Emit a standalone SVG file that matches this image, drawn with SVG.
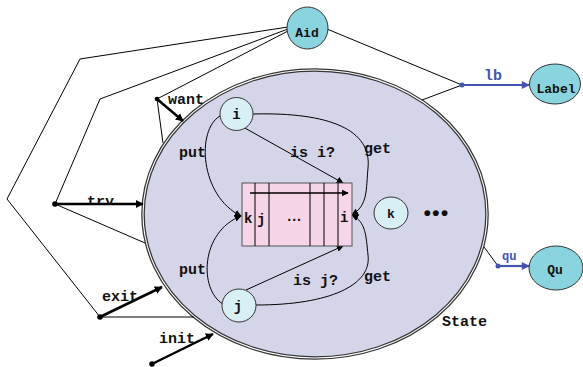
<svg xmlns="http://www.w3.org/2000/svg" width="583" height="367" viewBox="0 0 583 367">
  <defs>
    <marker id="ah" viewBox="0 0 10 10" refX="9" refY="5" markerWidth="7" markerHeight="7" markerUnits="userSpaceOnUse" orient="auto">
      <path d="M0,0 L10,5 L0,10 z" fill="#000"/>
    </marker>
    <marker id="ahb" viewBox="0 0 10 10" refX="9" refY="5" markerWidth="8" markerHeight="8" markerUnits="userSpaceOnUse" orient="auto">
      <path d="M0,0 L10,5 L0,10 z" fill="#000"/>
    </marker>
    <marker id="ahblue" viewBox="0 0 10 10" refX="9" refY="5" markerWidth="9" markerHeight="8" markerUnits="userSpaceOnUse" orient="auto">
      <path d="M0,0 L10,5 L0,10 z" fill="#4452b0"/>
    </marker>
    <clipPath id="tryclip">
      <rect x="80" y="185" width="40" height="19.5"/>
    </clipPath>
  </defs>
  <style>
    text { font-family: "Liberation Mono", "Courier New", monospace; font-weight: bold; fill: #111; }
    .lbl { font-size: 15px; }
    .nlbl { font-size: 13px; text-anchor: middle; }
    .blue { fill: #4452b0; }
    .thin { fill: none; stroke: #000; stroke-width: 1; }
    .thick { fill: none; stroke: #000; stroke-width: 2.5; marker-end: url(#ahb); }
    .curve { fill: none; stroke: #000; stroke-width: 1; marker-end: url(#ah); }
    .bl { fill: none; stroke: #4452b0; stroke-width: 2.2; marker-end: url(#ahblue); }
    .dot { fill: #000; }
    .bdot { fill: #4452b0; }
  </style>

  <!-- State container -->
  <g id="state">
    <ellipse cx="315" cy="214" rx="172" ry="144" fill="#d5d5ea" stroke="#333" stroke-width="3.6"/>
    <ellipse cx="315" cy="214" rx="172" ry="144" fill="none" stroke="#fff" stroke-width="1.1"/>
    <text class="lbl" x="442" y="326">State</text>
  </g>

  <!-- connectors -->
  <g id="connectors">
    <!-- Aid fan-out -->
    <polyline class="thin" points="288,27 80,59 7,199 100,317 194,317"/>
    <polyline class="thin" points="288,29 100,99 55,204 145,243"/>
    <polyline class="thin" points="288,31 157,99 163,143"/>
    <line class="thin" x1="327" y1="29" x2="462" y2="85"/>
    <line class="thin" x1="462" y1="85" x2="422" y2="100"/>
    <line class="thin" x1="484" y1="247" x2="498" y2="266"/>

    <!-- attribute links -->
    <line class="bl" x1="462" y1="85" x2="529" y2="85"/>
    <line class="bl" x1="498" y1="266" x2="529" y2="266"/>
    <circle class="bdot" cx="462" cy="85" r="2.5"/>
    <circle class="bdot" cx="498" cy="266" r="2.5"/>

    <!-- operations -->
    <line class="thick" x1="157" y1="99" x2="183" y2="121"/>
    <line class="thick" x1="55" y1="204" x2="143" y2="204"/>
    <line class="thick" x1="100" y1="317" x2="162" y2="287"/>
    <line class="thick" x1="152" y1="364" x2="213" y2="334"/>
    <circle class="dot" cx="157" cy="99" r="2.3"/>
    <circle class="dot" cx="55" cy="204" r="2.8"/>
    <circle class="dot" cx="100" cy="317" r="2.8"/>
    <circle class="dot" cx="152" cy="364" r="2.8"/>

    <!-- queue accesses -->
    <path class="curve" d="M220,116 C196,130 200,196 241,216"/>
    <path class="curve" d="M223,304 C199,290 200,232 241,216"/>
    <path class="curve" d="M253,114 C330,112 372,130 368,168 C366,190 368,205 352,215"/>
    <path class="curve" d="M256,305 C330,305 372,285 368,255 C366,236 366,222 352,215"/>
    <line class="curve" x1="243" y1="127" x2="343" y2="183"/>
    <line class="curve" x1="246" y1="290" x2="343" y2="246"/>
  </g>

  <!-- operation labels -->
  <g id="labels">
    <text class="lbl" x="168" y="104">want</text>
    <text class="lbl" x="87" y="206" clip-path="url(#tryclip)">try</text>
    <text class="lbl" x="102" y="301">exit</text>
    <text class="lbl" x="159" y="343">init</text>
    <text class="lbl" x="179" y="157">put</text>
    <text class="lbl" x="179" y="274">put</text>
    <text class="lbl" x="364" y="153">get</text>
    <text class="lbl" x="364" y="281">get</text>
    <text class="lbl" x="290" y="157">is i?</text>
    <text class="lbl" x="293" y="285">is j?</text>
    <text class="lbl blue" x="484" y="80">lb</text>
    <text class="blue" x="502" y="260" style="font-size:12px">qu</text>
    <text x="421" y="220" style="font-size:21px;letter-spacing:-4px">•••</text>
  </g>

  <!-- queue -->
  <g id="queue">
    <rect x="242" y="183" width="110" height="63" fill="#f5d5e7" stroke="#555" stroke-width="1"/>
    <line class="thin" x1="255" y1="183" x2="255" y2="246"/>
    <line class="thin" x1="269" y1="183" x2="269" y2="246"/>
    <line class="thin" x1="310" y1="183" x2="310" y2="246"/>
    <line class="thin" x1="324" y1="183" x2="324" y2="246"/>
    <line class="thin" x1="338" y1="183" x2="338" y2="246"/>
    <line class="curve" x1="250" y1="193" x2="348" y2="193" style="stroke-width:1.5"/>
    <text x="244" y="223" style="font-size:14px">k</text>
    <text x="257" y="224" style="font-size:14px">j</text>
    <text x="285" y="221" style="font-size:14px;letter-spacing:-3.5px">...</text>
    <text x="340" y="222" style="font-size:14px">i</text>
  </g>

  <!-- processes -->
  <g id="node-i">
    <circle cx="236.5" cy="114" r="16.5" fill="#d8f0f5" stroke="#333" stroke-width="1"/>
    <text class="nlbl" x="236.5" y="119" style="font-size:14px">i</text>
  </g>
  <g id="node-j">
    <ellipse cx="239" cy="305.5" rx="17" ry="16.5" fill="#d8f0f5" stroke="#333" stroke-width="1"/>
    <text class="nlbl" x="238" y="311" style="font-size:14px">j</text>
  </g>
  <g id="node-k">
    <ellipse cx="391" cy="213" rx="17" ry="16" fill="#d8f0f5" stroke="#333" stroke-width="1"/>
    <text class="nlbl" x="391" y="218" style="font-size:13px">k</text>
  </g>

  <!-- attribute classes -->
  <g id="node-aid">
    <ellipse cx="307.5" cy="28" rx="20.5" ry="21" fill="#8ad4e0" stroke="#333" stroke-width="1"/>
    <text class="nlbl" x="307" y="37">Aid</text>
  </g>
  <g id="node-label">
    <ellipse cx="555" cy="84" rx="25.5" ry="20" fill="#8ad4e0" stroke="#333" stroke-width="1"/>
    <text class="nlbl" x="556" y="93">Label</text>
  </g>
  <g id="node-qu">
    <ellipse cx="556" cy="268" rx="27" ry="22" fill="#8ad4e0" stroke="#333" stroke-width="1"/>
    <text class="nlbl" x="555" y="274">Qu</text>
  </g>
</svg>
